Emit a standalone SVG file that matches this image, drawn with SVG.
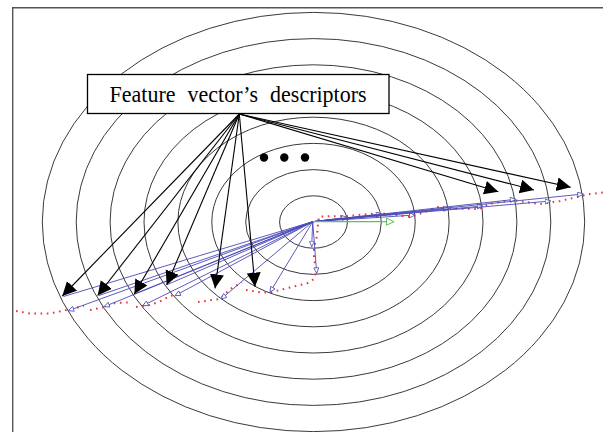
<svg xmlns="http://www.w3.org/2000/svg" width="603" height="432" viewBox="0 0 603 432">
<style>
.ring{fill:none;stroke:#3a3a3a;stroke-width:1}
.blk{stroke:#000;stroke-width:1.1;fill:none;marker-end:url(#ah)}
.blu{stroke:#4a4ab8;stroke-width:0.9;fill:none;marker-end:url(#bh)}
.bl2{stroke:#4a4ab8;stroke-width:0.9;fill:none}
.traj{fill:none;stroke:#e8343c;stroke-width:2;stroke-dasharray:1.6 4.6;stroke-linecap:butt}
.lbl{font-family:"Liberation Serif","Times New Roman",serif;font-size:23.5px;word-spacing:7px;fill:#000}
</style>
<defs>
<marker id="ah" markerWidth="16" markerHeight="16" refX="14" refY="7" orient="auto" markerUnits="userSpaceOnUse"><path d="M0,0 L14,7 L0,14 z" fill="#000"/></marker>
<marker id="bh" markerWidth="8" markerHeight="8" refX="6" refY="3" orient="auto" markerUnits="userSpaceOnUse"><path d="M0.5,0.5 L6,3 L0.5,5.5 z" fill="#fff" stroke="#4a4ab8" stroke-width="0.8"/></marker>
<marker id="gh" markerWidth="10" markerHeight="10" refX="8" refY="4" orient="auto" markerUnits="userSpaceOnUse"><path d="M0.5,0.5 L8,4 L0.5,7.5 z" fill="#fff" stroke="#5cc05c" stroke-width="1"/></marker>
</defs>
<rect width="603" height="432" fill="#fff"/>
<path d="M12.7,432 V7.7 H603" fill="none" stroke="#555" stroke-width="1.4"/>
<g id="rings">
<ellipse class="ring" cx="313.5" cy="222" rx="33.9" ry="26.2"/>
<ellipse class="ring" cx="313.5" cy="222" rx="67.8" ry="52.4"/>
<ellipse class="ring" cx="313.5" cy="222" rx="101.7" ry="78.6"/>
<ellipse class="ring" cx="313.5" cy="222" rx="135.6" ry="104.8"/>
<ellipse class="ring" cx="313.5" cy="222" rx="169.5" ry="131"/>
<ellipse class="ring" cx="313.5" cy="222" rx="203.4" ry="157.2"/>
<ellipse class="ring" cx="313.5" cy="222" rx="237.3" ry="183.4"/>
<ellipse class="ring" cx="313.5" cy="222" rx="271.2" ry="209.6"/>
</g>
<g id="trajectory">
<path class="traj" d="M16,311 L30,313.5 L50,313.5 L62,311 L84,306"/>
<path class="traj" d="M90,310 L105,307 L115,303 L128,302.5"/>
<path class="traj" d="M136,307 L150,305 L160,301.5 L170,296 L178,294.5"/>
<path class="traj" d="M198,302 L220,299 L230,289 L242,282.5"/>
<path class="traj" d="M246,290 L262,292.5 L272,292 L290,287.5 L308,283 L314,279 L316,270 L314,258 L314,248 L317,236 L318,224 L319,216.5 L348,216 L380,213 L410,217 L425,212 L437,207 L450,208.5 L480,209 L488,204 L512,200 L540,204 L560,201 L590,194 L603,192.5"/>
</g>
<g id="vectors">
<line class="blu" x1="312.7" y1="221.7" x2="68.3" y2="310.7"/>
<line class="blu" x1="312.7" y1="221.7" x2="104" y2="306.7"/>
<line class="blu" x1="312.7" y1="221.7" x2="142.7" y2="305.7"/>
<line class="blu" x1="312.7" y1="221.7" x2="175" y2="295.7"/>
<line class="bl2" x1="312.7" y1="221.7" x2="63.5" y2="296.5"/>
<line class="bl2" x1="312.7" y1="221.7" x2="99" y2="295.5"/>
<line class="bl2" x1="312.7" y1="221.7" x2="135.5" y2="293.5"/>
<line class="bl2" x1="312.7" y1="221.7" x2="167.5" y2="284.5"/>
<line class="blu" x1="312.7" y1="221.7" x2="221" y2="299"/>
<line class="blu" x1="312.7" y1="221.7" x2="270" y2="292.3"/>
<line class="blu" x1="312.7" y1="221.7" x2="316.7" y2="273.3"/>
<line class="blu" x1="312.7" y1="221.7" x2="311.7" y2="246.7"/>
<line class="blu" x1="312.7" y1="221.7" x2="347.3" y2="217.3"/>
<line class="blu" x1="312.7" y1="221.7" x2="381.7" y2="214"/>
<line class="blu" x1="312.7" y1="221.7" x2="415" y2="215"/>
<line class="blu" x1="312.7" y1="221.7" x2="449" y2="208.3"/>
<line class="blu" x1="312.7" y1="221.7" x2="482.7" y2="206"/>
<line class="blu" x1="312.7" y1="221.7" x2="515.7" y2="199.3"/>
<line class="blu" x1="312.7" y1="221.7" x2="550.7" y2="201"/>
<line class="blu" x1="312.7" y1="221.7" x2="583.3" y2="194"/>
<line x1="312.7" y1="221.7" x2="394" y2="221.7" stroke="#5cc05c" stroke-width="1.2" marker-end="url(#gh)"/>
</g>
<g id="ellipsis">
<circle cx="264" cy="157.5" r="4.2" fill="#000"/>
<circle cx="284.3" cy="157.5" r="4.2" fill="#000"/>
<circle cx="305" cy="157.5" r="4.2" fill="#000"/>
</g>
<g id="connectors">
<line class="blk" x1="239.3" y1="114" x2="62.3" y2="296"/>
<line class="blk" x1="239.3" y1="114" x2="97.7" y2="295.5"/>
<line class="blk" x1="239.3" y1="114" x2="134.3" y2="294"/>
<line class="blk" x1="239.3" y1="114" x2="166.7" y2="285"/>
<line class="blk" x1="239.3" y1="114" x2="215" y2="288.3"/>
<line class="blk" x1="239.3" y1="114" x2="255" y2="286.7"/>
<line class="blk" x1="239.3" y1="114" x2="498.3" y2="191.7"/>
<line class="blk" x1="239.3" y1="114" x2="534" y2="190"/>
<line class="blk" x1="239.3" y1="114" x2="570.7" y2="187.3"/>
</g>
<g id="label">
<rect x="87.5" y="74.5" width="301.5" height="39" fill="#fff" stroke="#000" stroke-width="1.3"/>
<text class="lbl" x="109.6" y="101.7" textLength="257" lengthAdjust="spacingAndGlyphs">Feature vector’s descriptors</text>
</g>
</svg>
